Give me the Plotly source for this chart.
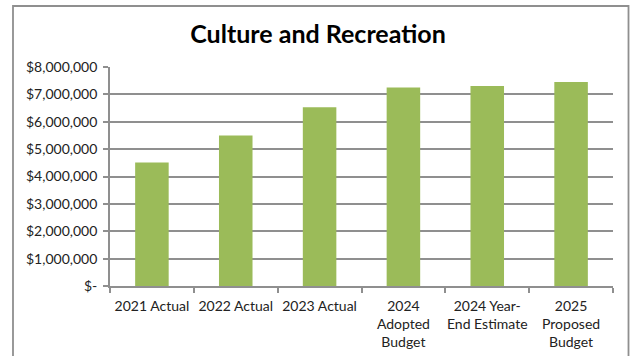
import plotly.graph_objects as go

categories = ["2021 Actual", "2022 Actual", "2023 Actual",
              "2024<br>Adopted<br>Budget", "2024 Year-<br>End Estimate",
              "2025<br>Proposed<br>Budget"]
values = [4510000, 5500000, 6530000, 7250000, 7310000, 7450000]
tick_vals = [0, 1000000, 2000000, 3000000, 4000000, 5000000, 6000000, 7000000, 8000000]
tick_text = ["$-", "$1,000,000", "$2,000,000", "$3,000,000", "$4,000,000",
             "$5,000,000", "$6,000,000", "$7,000,000", "$8,000,000"]

W, H = 636, 356
L, R, T, B = 110, 23, 67, 70
pw, ph = W - L - R, H - T - B

def px_x(x):
    return (x - L) / pw

def px_y(y):
    return (H - B - y) / ph

fig = go.Figure(go.Bar(x=categories, y=values, marker_color="#9BBB59",
                       marker_line_width=0, width=0.4))

GRID = "#8f8f8f"
fig.update_layout(
    width=W, height=H,
    margin=dict(l=L, r=R, t=T, b=B, autoexpand=False),
    paper_bgcolor="white", plot_bgcolor="white",
    font=dict(family="Lato, Liberation Sans, sans-serif", size=14, color="#222"),
    title=dict(text="<b>Culture and Recreation</b>", x=0.5, xanchor="center",
               y=1 - 34 / H, yanchor="middle", yref="container",
               font=dict(size=25, color="black")),
    showlegend=False,
    bargap=0.6,
)
fig.update_yaxes(range=[0, 8000000], tickvals=tick_vals, ticktext=tick_text,
                 showgrid=True, gridcolor=GRID, gridwidth=1.8,
                 showline=True, linecolor=GRID, linewidth=1.8,
                 ticks="outside", ticklen=5, tickcolor=GRID, tickwidth=1.5,
                 ticklabelstandoff=3, automargin=False,
                 zeroline=False, fixedrange=True)
fig.update_xaxes(showline=True, linecolor=GRID, linewidth=1.8,
                 ticks="outside", ticklen=5, tickcolor=GRID, tickwidth=1.5,
                 tickson="boundaries", tickangle=0, ticklabelstandoff=6,
                 automargin=False, fixedrange=True)

fig.add_shape(type="rect", xref="paper", yref="paper",
              x0=px_x(13), x1=px_x(628.5), y0=px_y(375), y1=px_y(6),
              line=dict(color=GRID, width=1.8), fillcolor="rgba(0,0,0,0)",
              layer="below")

fig.write_html("out.html")
